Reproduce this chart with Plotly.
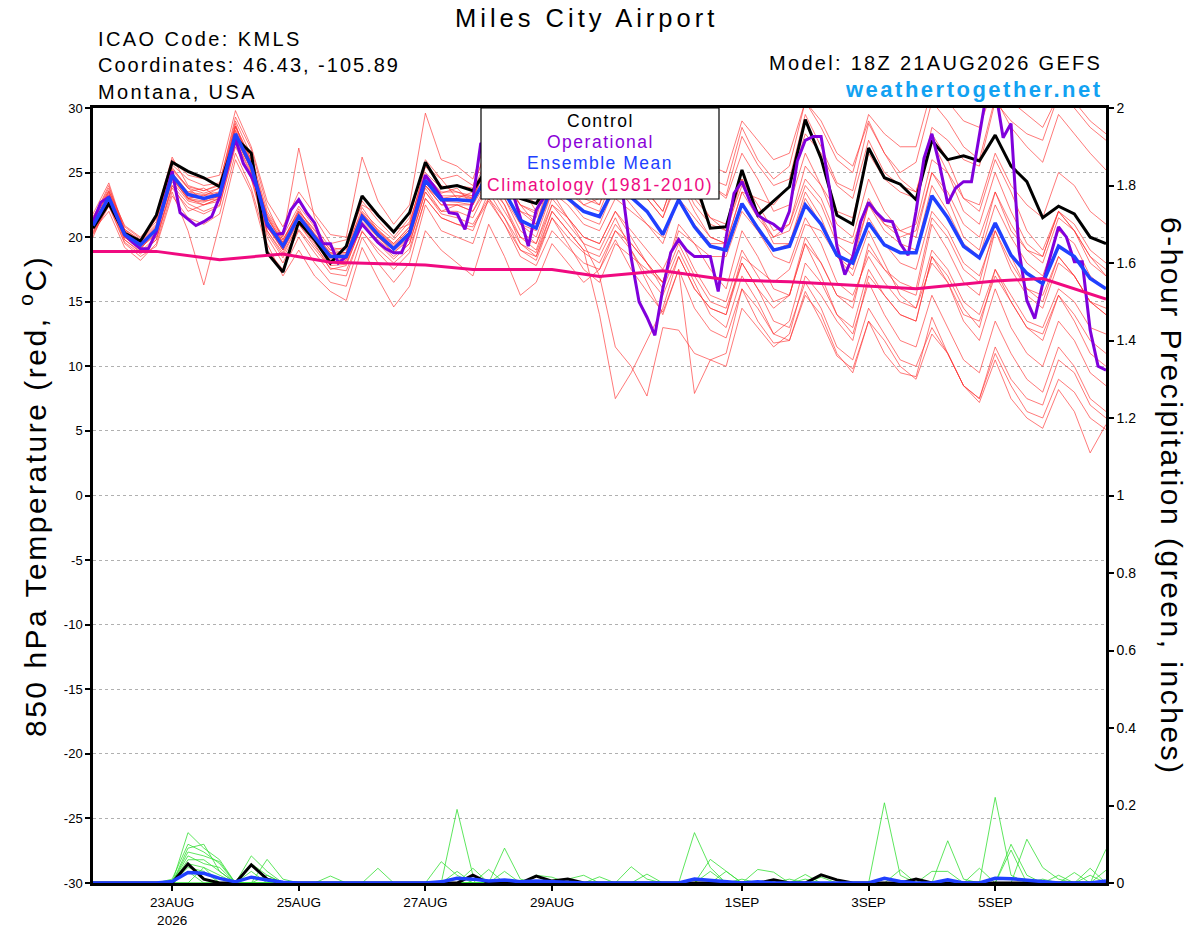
import pandas as pd
import plotly.graph_objects as go

# 6-hourly GEFS output, 21AUG2026 18Z to 06SEP2026 18Z
run_start = "2026-08-21 18:00"
n_steps = 65

# 850 hPa temperature (C)
control_t = [20.7, 22.6, 20.3, 19.7, 21.7, 25.8, 25.1, 24.6, 23.9, 27.7,
             26.5, 18.8, 17.3, 21.2, 19.8, 18.0, 19.3, 23.2, 21.7, 20.4,
             21.9, 25.8, 23.8, 24.0, 23.6, 25.5, 24.5, 23.0, 22.6, 24.5,
             25.0, 24.5, 26.0, 25.5, 26.5, 25.0, 26.0, 25.5, 24.5, 20.7,
             20.8, 25.2, 21.7, 22.8, 23.9, 29.1, 26.1, 21.7, 21.0, 26.9,
             24.6, 24.1, 22.9, 27.5, 26.0, 26.3, 25.9, 27.9, 25.5, 24.3,
             21.5, 22.4, 21.8, 20.0, 19.5]

mean_t = [20.9, 23.1, 20.2, 19.4, 20.6, 24.8, 23.3, 23.0, 23.3, 28.0,
          25.5, 21.1, 19.3, 21.6, 20.0, 18.5, 18.5, 21.6, 20.2, 19.1,
          20.3, 24.4, 22.9, 22.9, 22.8, 25.0, 23.5, 21.3, 20.7, 24.0,
          23.0, 22.0, 21.6, 24.0, 23.1, 22.0, 20.2, 22.9, 20.8, 19.3,
          19.0, 22.6, 20.7, 19.0, 19.3, 22.5, 21.0, 18.6, 18.0, 21.1,
          19.4, 18.8, 18.8, 23.2, 21.5, 19.3, 18.4, 21.1, 18.6, 17.2,
          16.4, 19.3, 18.5, 16.8, 16.0]

# operational run is 3-hourly
oper_t = [21.2, 22.7, 23.1, 21.6, 20.2, 19.6, 19.1, 19.1, 20.4, 22.8,
          25.1, 21.9, 21.4, 20.9, 21.2, 21.6, 23.1, 25.4, 27.6, 25.7,
          24.7, 23.4, 20.9, 20.2, 20.3, 22.1, 22.9, 21.9, 21.1, 19.5,
          19.5, 18.0, 18.5, 19.8, 21.0, 20.3, 19.6, 19.1, 18.8, 18.8,
          20.3, 22.5, 24.8, 24.0, 23.1, 21.9, 21.8, 20.6, 22.9, 27.3,
          26.5, 25.5, 24.5, 23.5, 21.5, 19.3, 22.1, 23.1, 24.5, 25.5,
          26.0, 26.5, 27.0, 26.5, 26.0, 25.5, 25.0, 23.1, 18.4, 15.0,
          13.8, 12.4, 16.0, 18.8, 19.8, 19.0, 18.5, 18.5, 18.5, 15.8,
          20.0, 23.4, 24.3, 22.8, 21.7, 21.3, 21.0, 20.5, 22.0, 25.9,
          27.5, 27.8, 27.8, 24.0, 19.3, 17.1, 18.5, 21.2, 22.7, 21.9,
          21.3, 21.2, 19.5, 18.6, 22.0, 26.1, 28.0, 25.5, 22.6, 23.8,
          24.3, 24.3, 28.0, 31.5, 31.5, 27.7, 28.8, 19.0, 15.1, 13.7,
          16.4, 18.5, 20.8, 20.0, 18.1, 18.1, 12.8, 10.0, 9.7]

# climatology (1981-2010), given at these 6-hour steps
clim_steps = [0, 4, 8, 12, 15, 21, 24, 29, 32, 36, 40, 44, 52, 57, 60, 64]
clim_t = [18.9, 18.9, 18.25, 18.7, 18.05, 17.85, 17.5, 17.5, 16.95, 17.4,
          16.7, 16.55, 16.0, 16.6, 16.8, 15.2]

t_mem01 = [21.5, 23.8, 20.8, 19.9, 21.2, 25.6, 24.5, 24.0, 24.2, 29.0,
           26.3, 22.0, 20.1, 22.4, 20.8, 19.2, 19.0, 22.8, 21.3, 20.0,
           21.5, 26.0, 24.5, 24.8, 24.0, 27.0, 25.2, 23.5, 22.6, 26.5,
           25.0, 24.2, 23.5, 27.0, 26.0, 24.8, 23.0, 27.5, 25.5, 24.0,
           23.2, 27.8, 25.6, 24.0, 24.5, 29.5, 27.0, 24.2, 23.6, 28.8,
           26.5, 25.0, 25.8, 30.5, 29.0, 27.0, 26.0, 30.8, 28.5, 27.0,
           25.8, 29.5, 28.0, 26.5, 25.2]
t_mem02 = [20.3, 22.5, 19.6, 18.7, 19.8, 23.8, 22.3, 21.8, 22.4, 27.0,
           24.6, 20.3, 18.4, 20.6, 19.1, 17.6, 17.4, 20.4, 19.1, 18.0,
           19.1, 23.0, 21.5, 21.0, 20.8, 22.8, 21.0, 18.5, 17.8, 20.5,
           19.2, 18.0, 17.5, 19.8, 17.5, 15.8, 14.2, 17.5, 14.5, 12.8,
           12.2, 16.0, 13.5, 11.8, 12.0, 15.8, 13.5, 10.8, 9.8, 13.5,
           11.0, 9.5, 9.2, 13.8, 11.0, 8.5, 7.2, 10.5, 7.5, 6.0,
           5.2, 8.2, 6.5, 3.3, 5.5]
t_mem03 = [21.8, 24.2, 20.5, 19.6, 21.8, 26.2, 24.0, 23.6, 24.1, 29.3,
           26.8, 22.4, 19.8, 22.0, 20.6, 19.0, 18.8, 22.3, 20.5, 19.5,
           20.8, 25.5, 24.0, 23.5, 23.2, 26.0, 24.2, 22.0, 21.5, 25.5,
           24.5, 23.0, 22.5, 26.0, 24.5, 23.0, 21.5, 25.0, 22.5, 21.0,
           20.5, 24.5, 22.5, 20.5, 21.0, 24.5, 23.0, 20.0, 19.5, 23.0,
           21.0, 20.0, 20.5, 25.0, 23.5, 21.0, 20.0, 23.5, 20.5, 19.0,
           18.0, 21.5, 20.5, 18.5, 17.5]
t_mem04 = [20.0, 22.8, 19.8, 18.9, 20.0, 24.0, 22.0, 22.5, 23.0, 27.5,
           24.8, 20.5, 18.6, 21.0, 19.3, 17.8, 17.9, 20.9, 19.5, 18.3,
           19.5, 23.5, 21.8, 21.5, 21.0, 23.0, 21.5, 19.0, 18.2, 21.5,
           20.0, 18.8, 18.0, 20.5, 19.0, 17.0, 15.5, 18.5, 16.0, 14.5,
           14.0, 18.5, 17.5, 16.5, 17.5, 21.0, 20.5, 18.5, 18.0, 22.5,
           21.0, 20.5, 21.0, 26.0, 25.0, 23.0, 22.5, 26.5, 24.0, 22.5,
           21.5, 25.0, 24.0, 22.0, 21.0]
t_mem05 = [21.2, 23.5, 20.6, 19.8, 21.0, 25.2, 23.8, 22.8, 23.5, 28.5,
           25.8, 21.5, 19.6, 22.2, 20.2, 18.8, 18.4, 21.8, 20.4, 19.4,
           20.6, 24.8, 23.4, 23.8, 22.5, 25.5, 23.8, 21.0, 20.0, 23.5,
           21.5, 19.5, 17.0, 11.5, 10.0, 7.7, 13.0, 12.8, 11.0, 10.5,
           10.0, 14.5, 13.0, 11.5, 12.5, 17.0, 15.5, 13.5, 12.0, 17.0,
           15.5, 14.0, 13.5, 18.5, 17.0, 14.5, 13.0, 17.5, 15.0, 13.0,
           12.0, 15.5, 13.5, 11.0, 10.0]
t_mem06 = [20.5, 22.0, 19.2, 18.2, 19.5, 23.5, 20.5, 16.3, 21.0, 26.0,
           23.5, 19.0, 17.5, 20.0, 18.0, 16.5, 16.2, 20.0, 18.0, 16.5,
           18.0, 22.5, 20.5, 20.0, 19.5, 23.0, 21.0, 19.0, 18.5, 22.0,
           20.5, 19.0, 14.0, 7.5, 9.5, 12.0, 14.5, 18.5, 16.0, 14.5,
           14.0, 18.0, 16.0, 14.5, 15.5, 20.0, 18.0, 15.5, 14.5, 19.5,
           17.5, 16.0, 15.5, 21.0, 19.0, 16.5, 15.5, 20.5, 17.5, 15.5,
           14.5, 18.0, 17.0, 15.0, 14.0]
t_mem07 = [21.0, 23.0, 20.0, 19.0, 20.8, 25.0, 23.0, 23.2, 23.8, 28.8,
           25.0, 21.8, 20.0, 26.9, 21.5, 19.5, 19.8, 22.5, 21.8, 20.5,
           21.0, 25.5, 24.5, 23.0, 23.5, 26.5, 25.0, 23.8, 23.2, 27.0,
           26.5, 25.5, 25.0, 28.5, 27.0, 25.5, 24.5, 28.0, 26.5, 24.5,
           24.0, 28.5, 26.0, 24.5, 25.5, 30.5, 28.5, 26.0, 25.0, 29.5,
           28.0, 27.0, 27.0, 31.5, 30.5, 29.0, 28.5, 32.0, 30.5, 29.5,
           28.5, 31.0, 30.5, 29.0, 28.0]
t_mem08 = [20.2, 22.4, 19.5, 18.5, 19.3, 23.2, 21.5, 21.0, 21.8, 26.5,
           23.8, 19.5, 17.0, 19.0, 17.0, 15.8, 15.1, 19.2, 16.8, 14.6,
           16.2, 20.5, 19.0, 18.0, 17.0, 21.0, 18.5, 15.5, 16.5, 19.5,
           18.0, 16.5, 17.5, 20.5, 19.5, 18.0, 16.5, 21.0, 19.5, 17.5,
           16.0, 20.5, 18.5, 16.0, 15.5, 19.5, 17.0, 14.0, 12.5, 16.5,
           14.0, 12.0, 11.5, 15.5, 13.0, 10.5, 9.5, 13.5, 11.0, 9.0,
           8.0, 11.5, 10.0, 7.5, 6.5]
t_mem09 = [21.4, 24.0, 20.4, 19.5, 21.5, 26.0, 24.8, 24.5, 24.8, 29.8,
           27.0, 22.8, 20.8, 23.5, 21.8, 20.2, 20.0, 26.2, 22.8, 21.0,
           22.5, 29.6, 26.0, 25.5, 24.5, 28.0, 26.0, 24.0, 22.0, 25.5,
           24.0, 22.5, 23.0, 26.0, 24.5, 23.5, 22.0, 25.5, 23.0, 21.5,
           20.5, 24.0, 22.0, 20.0, 20.5, 24.0, 22.5, 19.5, 18.5, 22.5,
           20.5, 19.5, 19.0, 24.0, 22.0, 19.5, 18.5, 22.5, 20.0, 18.0,
           17.0, 20.5, 19.5, 17.0, 16.0]
t_mem10 = [20.6, 23.2, 20.0, 19.2, 20.2, 24.5, 23.5, 23.8, 23.0, 27.8,
           25.2, 20.5, 18.8, 21.0, 19.5, 17.5, 17.8, 21.0, 19.8, 18.8,
           19.8, 23.8, 22.0, 22.5, 22.0, 24.0, 22.0, 20.0, 19.5, 22.5,
           21.5, 20.0, 19.5, 22.0, 20.5, 19.0, 17.5, 20.0, 17.5, 15.5,
           15.0, 19.0, 17.0, 15.0, 15.5, 19.5, 18.0, 15.5, 15.0, 19.0,
           17.5, 16.5, 16.0, 21.5, 20.0, 17.5, 16.5, 21.0, 18.5, 16.0,
           15.0, 18.5, 17.0, 15.0, 14.5]
t_mem11 = [21.0, 23.3, 20.3, 19.3, 20.5, 24.6, 23.0, 22.5, 23.0, 28.2,
           25.5, 21.0, 19.0, 21.5, 19.8, 18.2, 18.0, 21.2, 20.0, 18.8,
           20.0, 24.0, 22.5, 22.5, 22.5, 25.5, 24.0, 22.5, 21.0, 25.0,
           23.5, 22.5, 22.0, 25.0, 24.0, 23.0, 21.5, 24.5, 22.0, 20.0,
           19.5, 23.5, 23.0, 22.5, 24.0, 28.0, 26.5, 24.0, 23.0, 27.5,
           25.0, 24.0, 23.5, 28.0, 26.0, 23.0, 22.0, 26.0, 23.5, 20.5,
           19.0, 22.0, 20.5, 18.5, 17.0]
t_mem12 = [20.8, 22.8, 20.1, 19.3, 20.3, 24.3, 22.8, 22.5, 22.8, 27.5,
           25.0, 20.8, 19.0, 21.2, 19.6, 18.0, 18.2, 21.0, 19.6, 18.5,
           19.5, 23.5, 22.0, 22.0, 21.5, 24.0, 22.5, 20.0, 19.0, 22.5,
           21.0, 19.5, 19.0, 21.5, 19.0, 16.5, 14.0, 17.5, 7.9, 10.5,
           11.0, 16.0, 14.5, 12.5, 13.5, 18.0, 16.5, 14.0, 13.0, 17.5,
           15.5, 14.0, 13.5, 18.5, 16.5, 13.5, 12.0, 16.0, 13.0, 11.0,
           10.0, 13.5, 12.0, 9.5, 8.5]
t_mem13 = [21.6, 23.6, 20.9, 20.0, 21.4, 25.3, 23.9, 23.6, 24.0, 28.6,
           26.0, 21.7, 19.8, 22.0, 20.5, 19.0, 19.2, 22.0, 20.8, 19.8,
           21.2, 25.0, 23.8, 24.0, 23.8, 27.5, 26.0, 24.5, 23.8, 28.0,
           27.0, 26.0, 25.5, 29.0, 27.5, 26.5, 25.0, 28.5, 26.0, 24.0,
           23.0, 26.5, 24.5, 22.0, 22.5, 26.5, 24.0, 21.0, 20.0, 24.5,
           22.0, 20.5, 20.0, 25.0, 23.0, 20.0, 19.0, 23.5, 21.0, 19.0,
           18.5, 22.0, 21.0, 19.0, 18.0]
t_mem14 = [20.4, 22.6, 19.8, 18.8, 19.8, 24.0, 22.6, 22.0, 22.5, 27.2,
           24.5, 20.0, 18.0, 20.5, 18.8, 17.2, 17.0, 20.5, 18.8, 17.5,
           18.8, 23.0, 21.5, 21.0, 20.5, 23.5, 21.5, 19.5, 18.8, 22.0,
           20.5, 19.0, 18.5, 21.0, 19.5, 18.0, 16.5, 19.5, 17.0, 15.0,
           14.5, 18.0, 16.0, 13.5, 13.0, 16.5, 14.5, 11.5, 10.5, 14.5,
           12.5, 10.5, 10.0, 13.0, 11.0, 8.5, 7.5, 11.0, 8.5, 6.5,
           6.0, 9.0, 8.0, 6.0, 5.1]
t_mem15 = [21.3, 23.4, 20.5, 19.6, 20.8, 25.0, 23.5, 23.3, 23.5, 28.3,
           25.8, 21.5, 19.5, 21.8, 20.3, 18.8, 18.8, 21.8, 20.6, 19.5,
           20.8, 24.8, 23.5, 23.5, 23.0, 26.0, 24.5, 22.5, 21.8, 25.5,
           24.5, 23.5, 23.5, 27.0, 26.5, 25.5, 24.5, 28.5, 27.0, 25.5,
           25.0, 29.0, 27.5, 26.0, 26.5, 30.5, 29.0, 26.5, 25.5, 29.0,
           26.5, 24.5, 23.5, 27.5, 25.0, 22.0, 21.0, 25.0, 22.0, 19.5,
           18.5, 22.0, 20.5, 18.0, 17.0]
t_mem16 = [20.7, 22.9, 20.0, 19.1, 20.4, 24.5, 23.0, 22.8, 23.0, 27.8,
           25.3, 20.8, 19.0, 21.3, 19.8, 18.3, 18.3, 21.4, 20.0, 19.0,
           20.0, 24.0, 22.5, 22.5, 22.0, 24.5, 23.0, 20.5, 19.5, 23.0,
           21.5, 20.0, 19.5, 22.0, 20.0, 18.0, 16.0, 19.0, 16.5, 14.0,
           13.0, 17.0, 15.0, 12.5, 12.0, 15.5, 14.0, 11.0, 9.5, 13.5,
           12.0, 10.0, 9.0, 12.5, 11.0, 8.5, 7.5, 11.5, 9.0, 7.5,
           7.0, 10.5, 9.5, 7.0, 6.0]
t_mem17 = [21.1, 23.1, 20.2, 19.2, 20.7, 24.9, 23.4, 23.2, 23.4, 28.0,
           25.6, 21.2, 19.4, 21.6, 20.1, 18.6, 18.6, 21.7, 20.3, 19.2,
           20.4, 24.4, 23.0, 23.2, 23.2, 25.5, 24.5, 22.5, 22.0, 26.0,
           24.5, 23.5, 22.5, 26.5, 25.0, 23.5, 22.0, 25.5, 23.5, 21.5,
           21.0, 24.5, 22.0, 19.5, 19.5, 23.5, 21.5, 18.5, 17.5, 21.5,
           19.5, 18.0, 17.5, 22.0, 20.5, 18.0, 17.0, 20.5, 18.0, 16.0,
           15.5, 18.5, 17.0, 15.0, 14.0]
t_mem18 = [21.2, 23.6, 20.6, 19.7, 20.9, 25.4, 23.8, 23.4, 23.8, 28.6,
           26.0, 21.6, 19.6, 21.9, 20.2, 18.7, 18.7, 21.9, 20.5, 19.3,
           20.6, 24.6, 23.2, 23.2, 23.0, 25.8, 24.3, 22.0, 21.0, 24.5,
           23.0, 21.5, 21.0, 24.0, 22.5, 21.0, 19.5, 23.0, 21.0, 19.5,
           19.5, 23.5, 21.5, 20.0, 21.0, 25.5, 24.0, 22.0, 21.5, 26.5,
           24.5, 23.5, 23.0, 28.5, 27.5, 26.0, 25.5, 30.5, 29.0, 28.0,
           27.5, 31.0, 30.0, 28.5, 27.5]
t_mem19 = [20.9, 23.0, 20.2, 19.3, 20.5, 24.7, 23.1, 23.0, 23.1, 27.9,
           25.4, 21.0, 19.2, 21.5, 19.9, 18.4, 18.4, 21.5, 20.1, 19.0,
           20.2, 24.2, 22.8, 22.7, 22.5, 24.5, 22.5, 19.5, 18.5, 21.5,
           19.5, 17.5, 16.5, 19.5, 18.5, 17.5, 16.5, 20.5, 19.5, 18.5,
           18.5, 22.0, 20.5, 19.0, 19.5, 23.0, 21.0, 18.5, 17.0, 20.5,
           18.0, 15.5, 14.5, 18.0, 16.5, 14.0, 13.5, 17.0, 15.0, 13.0,
           12.5, 15.5, 14.0, 12.0, 11.0]
t_mem20 = [21.0, 22.9, 20.4, 19.5, 20.6, 24.6, 22.9, 22.7, 23.2, 27.6,
           25.3, 21.3, 19.3, 21.4, 20.0, 18.6, 18.4, 21.5, 20.0, 19.0,
           20.2, 24.0, 22.8, 22.9, 23.0, 25.0, 23.0, 21.0, 20.5, 23.5,
           22.5, 21.0, 20.5, 23.0, 22.0, 21.0, 20.0, 23.0, 21.5, 20.0,
           19.5, 22.5, 20.5, 18.5, 18.0, 21.5, 19.5, 16.5, 15.5, 18.5,
           16.5, 15.0, 14.5, 19.0, 17.5, 15.0, 14.0, 17.5, 15.5, 13.5,
           13.0, 16.0, 15.0, 13.0, 12.5]

# 6-hour precipitation (inches)
control_p = [0, 0, 0, 0, 0, 0, .049, .01, 0, 0,
             .047, .01, 0, 0, 0, 0, 0, 0, 0, 0,
             0, 0, 0, 0, .02, 0, 0, 0, .018, .005,
             .01, 0, 0, 0, 0, 0, 0, 0, 0, 0,
             0, 0, 0, .008, 0, 0, .021, .008, 0, 0,
             0, 0, .01, 0, 0, 0, 0, 0, 0, 0,
             0, 0, 0, 0, 0]
mean_p = [0, 0, 0, 0, 0, .004, .027, .025, .012, .003,
          .015, .008, .002, 0, 0, 0, 0, 0, 0, 0,
          0, 0, .003, .012, .01, .005, .008, .003, .005, .003,
          0, 0, 0, 0, 0, 0, 0, 0, .01, .006,
          .004, 0, .003, 0, 0, 0, 0, 0, 0, 0,
          .012, .004, 0, 0, .008, 0, 0, .012, .011, .008,
          .004, 0, 0, 0, .005]

p_mem01 = [0, 0, 0, 0, 0, 0, .13, .09, .06, 0,
           0, 0, 0, 0, 0, 0, 0, 0, 0, 0,
           0, 0, 0, .19, .02, 0, 0, 0, 0, 0,
           0, 0, 0, 0, 0, 0, 0, 0, 0, 0,
           0, 0, 0, 0, 0, 0, 0, 0, 0, 0,
           .207, .02, 0, 0, 0, 0, 0, 0, 0, 0,
           0, 0, 0, 0, 0]
p_mem02 = [0, 0, 0, 0, 0, .01, .10, .08, .05, 0,
           .07, .03, 0, 0, 0, 0, 0, 0, 0, 0,
           0, 0, 0, 0, 0, 0, 0, 0, 0, 0,
           0, 0, 0, 0, 0, 0, 0, 0, 0, 0,
           0, 0, 0, 0, 0, 0, 0, 0, 0, 0,
           0, 0, 0, 0, 0, 0, 0, .221, .02, 0,
           0, 0, 0, 0, 0]
p_mem03 = [0, 0, 0, 0, 0, 0, .09, .10, .03, 0,
           0, .061, .01, 0, 0, 0, 0, 0, 0, 0,
           0, 0, 0, 0, 0, 0, 0, 0, 0, 0,
           0, 0, 0, 0, 0, 0, 0, 0, .13, .04,
           0, 0, 0, 0, 0, 0, 0, 0, 0, 0,
           0, 0, 0, 0, .109, .01, 0, 0, 0, 0,
           0, 0, 0, 0, 0]
p_mem04 = [0, 0, 0, 0, 0, 0, .08, .07, .055, 0,
           0, 0, 0, 0, 0, 0, 0, 0, 0, 0,
           0, 0, 0, 0, 0, 0, .09, .01, 0, 0,
           0, 0, 0, 0, 0, 0, 0, 0, 0, 0,
           0, 0, 0, 0, 0, 0, 0, 0, 0, 0,
           0, 0, 0, 0, 0, 0, 0, 0, .10, .02,
           0, 0, 0, 0, 0]
p_mem05 = [0, 0, 0, 0, 0, 0, .07, .05, .04, 0,
           0, 0, 0, 0, 0, 0, 0, 0, 0, 0,
           0, 0, .055, .02, 0, 0, 0, 0, 0, 0,
           0, 0, 0, 0, 0, 0, 0, 0, 0, .061,
           .03, 0, 0, 0, 0, 0, 0, 0, 0, 0,
           0, 0, 0, 0, 0, 0, 0, 0, 0, .113,
           .04, .01, 0, 0, 0]
p_mem06 = [0, 0, 0, 0, 0, 0, .06, .06, .03, 0,
           .05, .02, 0, 0, 0, 0, 0, 0, 0, 0,
           0, 0, 0, 0, 0, 0, 0, 0, 0, 0,
           0, 0, 0, 0, .042, .01, 0, 0, 0, 0,
           0, 0, 0, 0, 0, 0, 0, 0, 0, 0,
           0, 0, 0, 0, 0, 0, 0, 0, 0, 0,
           0, 0, 0, 0, .087]
p_mem07 = [0, 0, 0, 0, 0, 0, .05, .04, 0, 0,
           0, 0, 0, 0, 0, .018, 0, 0, 0, 0,
           0, 0, 0, 0, 0, 0, 0, 0, 0, 0,
           0, 0, 0, 0, 0, 0, 0, 0, 0, 0,
           0, 0, .035, .028, 0, 0, 0, 0, 0, 0,
           0, 0, 0, 0, 0, 0, .038, 0, 0, 0,
           0, 0, 0, .038, 0]
p_mem08 = [0, 0, 0, 0, 0, 0, .04, .03, 0, 0,
           .03, 0, 0, 0, 0, 0, 0, 0, .038, 0,
           0, 0, 0, 0, .038, 0, 0, 0, 0, 0,
           0, 0, 0, 0, 0, 0, 0, 0, 0, 0,
           0, 0, 0, 0, 0, .022, 0, 0, 0, 0,
           0, 0, 0, .03, .03, 0, 0, 0, 0, 0,
           0, 0, 0, 0, 0]
p_mem09 = [0, 0, 0, 0, 0, 0, 0, .04, .02, 0,
           0, 0, 0, 0, 0, 0, 0, 0, 0, 0,
           0, 0, 0, 0, 0, .035, 0, 0, 0, 0,
           0, 0, 0, 0, 0, .023, 0, 0, 0, 0,
           0, 0, 0, 0, 0, 0, 0, 0, 0, 0,
           0, 0, 0, 0, 0, 0, 0, 0, .085, 0,
           0, 0, 0, 0, .033]
p_mem10 = [0, 0, 0, 0, 0, 0, .03, 0, 0, 0,
           0, 0, 0, 0, 0, 0, 0, 0, 0, 0,
           0, 0, 0, .03, 0, 0, 0, 0, .02, .015,
           0, 0, .016, 0, 0, 0, 0, 0, 0, 0,
           .03, 0, 0, 0, 0, 0, 0, 0, 0, 0,
           0, .034, 0, 0, 0, 0, 0, 0, 0, 0,
           0, 0, .027, 0, 0]
p_mem11 = [0, 0, 0, 0, 0, 0, 0, 0, 0, 0,
           0, .02, 0, 0, 0, 0, 0, 0, 0, 0,
           0, 0, 0, 0, 0, 0, .03, 0, 0, 0,
           0, 0, 0, 0, 0, 0, 0, 0, 0, .03,
           0, .01, 0, 0, 0, .01, 0, 0, 0, 0,
           0, 0, 0, 0, 0, 0, 0, 0, 0, 0,
           .01, 0, 0, .02, 0]
p_mem12 = [0, 0, 0, 0, 0, 0, 0, 0, 0, 0,
           0, 0, 0, 0, 0, 0, 0, 0, 0, 0,
           0, 0, 0, 0, 0, 0, 0, 0, 0, 0,
           .01, .02, 0, 0, 0, 0, 0, 0, 0, 0,
           0, 0, 0, 0, .01, 0, .015, 0, 0, 0,
           0, 0, 0, 0, 0, 0, 0, 0, 0, 0,
           0, .02, 0, 0, 0]

tick_dates = ["2026-08-23", "2026-08-25", "2026-08-27", "2026-08-29",
              "2026-09-01", "2026-09-03", "2026-09-05"]
tick_text = ["23AUG<br>2026", "25AUG", "27AUG", "29AUG", "1SEP", "3SEP", "5SEP"]
temp_ticks = [-30, -25, -20, -15, -10, -5, 0, 5, 10, 15, 20, 25, 30]

temp_members = [t_mem01, t_mem02, t_mem03, t_mem04, t_mem05, t_mem06, t_mem07,
                t_mem08, t_mem09, t_mem10, t_mem11, t_mem12, t_mem13, t_mem14,
                t_mem15, t_mem16, t_mem17, t_mem18, t_mem19, t_mem20]
precip_members = [p_mem01, p_mem02, p_mem03, p_mem04, p_mem05, p_mem06,
                  p_mem07, p_mem08, p_mem09, p_mem10, p_mem11, p_mem12]

FONT = "Liberation Sans, Arial, Helvetica, sans-serif"
W, H = 1200, 927
# plot area in page pixels
L, R, T, B = 93, 1106, 108, 883

ens_times = pd.date_range(run_start, periods=n_steps, freq="6h")
oper_times = pd.date_range(run_start, periods=len(oper_t), freq="3h")
clim_times = [ens_times[s] for s in clim_steps]


def px(x):
    return (x - L) / (R - L)


def py(y):
    return (B - y) / (B - T)


def spaced(text, ls):
    # reference font is drawn with wide letter spacing
    return f"<span style='letter-spacing:{ls}px'>{text}</span>"


def label(text, x, y, size, color="black", anchor="center", ls=2.5, angle=0):
    fig.add_annotation(x=px(x), y=py(y), xref="paper", yref="paper",
                       text=spaced(text, ls), xanchor=anchor, yanchor="middle",
                       textangle=angle, showarrow=False,
                       font=dict(size=size, color=color, family=FONT))


fig = go.Figure()

for mem in temp_members:
    fig.add_trace(go.Scatter(x=ens_times, y=mem, mode="lines", hoverinfo="skip",
                             line=dict(color="rgba(255,45,45,0.8)", width=0.8)))
for mem in precip_members:
    fig.add_trace(go.Scatter(x=ens_times, y=mem, mode="lines", yaxis="y2", hoverinfo="skip",
                             line=dict(color="#35e035", width=0.8)))

fig.add_trace(go.Scatter(x=ens_times, y=control_p, mode="lines", yaxis="y2",
                         line=dict(color="black", width=3)))
fig.add_trace(go.Scatter(x=ens_times, y=mean_p, mode="lines", yaxis="y2",
                         line=dict(color="#2040ff", width=3.5)))

fig.add_trace(go.Scatter(x=ens_times, y=control_t, mode="lines",
                         line=dict(color="black", width=3)))
fig.add_trace(go.Scatter(x=oper_times, y=oper_t, mode="lines",
                         line=dict(color="#8000dc", width=3)))
fig.add_trace(go.Scatter(x=ens_times, y=mean_t, mode="lines",
                         line=dict(color="#2040ff", width=3.5)))
fig.add_trace(go.Scatter(x=clim_times, y=clim_t, mode="lines",
                         line=dict(color="#f00a80", width=3)))

axis_line = dict(showline=True, linecolor="black", linewidth=2.5, automargin=False,
                 ticks="outside", ticklen=5, tickwidth=1.5, tickcolor="black")

fig.update_layout(
    width=W, height=H,
    margin=dict(l=L, r=W - R, t=T, b=H - B, pad=0),
    paper_bgcolor="white", plot_bgcolor="white",
    showlegend=False,
    font=dict(family=FONT, color="black"),
    xaxis=dict(type="date", range=[ens_times[0], ens_times[-1]],
               tickvals=pd.to_datetime(tick_dates), ticktext=tick_text,
               tickfont=dict(size=13.5), showgrid=False, mirror=True, **axis_line),
    yaxis=dict(range=[-30, 30], tickvals=temp_ticks,
               ticktext=[str(v) for v in temp_ticks],
               tickfont=dict(size=13), showgrid=True, gridcolor="#b0b0b0",
               griddash="dot", gridwidth=1, zeroline=False, **axis_line),
    yaxis2=dict(range=[0, 2], dtick=0.2, overlaying="y", side="right",
                tickfont=dict(size=14), showgrid=False, zeroline=False, **axis_line),
)

# legend box
fig.add_shape(type="rect", xref="paper", yref="paper",
              x0=px(481), x1=px(719), y0=py(199), y1=py(108),
              line=dict(color="black", width=1.2), fillcolor="white", layer="above")

legend_rows = [("Control", "black", 121), ("Operational", "#8a00d8", 142),
               ("Ensemble Mean", "#2040ff", 163), ("Climatology (1981-2010)", "#ee0a82", 185)]
for text, color, y in legend_rows:
    label(text, 600, y, 17.5, color=color, ls=1.5)

# header
label("Miles City Airport", 586, 18, 25.5, ls=4)
label("ICAO Code: KMLS", 96, 39, 20, anchor="left", ls=2.4)
label("Coordinates: 46.43, -105.89", 96, 65, 20, anchor="left", ls=2.0)
label("Montana, USA", 96, 92, 20, anchor="left", ls=2.4)
label("Model: 18Z 21AUG2026 GEFS", 1104, 63, 20, anchor="right", ls=2.3)
label("<b>weathertogether.net</b>", 1105, 89, 22, color="#12a2f2", anchor="right", ls=2.5)

# axis titles
label("850 hPa Temperature (red, <sup>o</sup>C)", 33, 496, 30, angle=-90)
label("6-hour Precipitation (green, inches)", 1172, 496, 30, angle=90)

# the page body has a default 8px margin; remove it so the figure sits at the corner
fig.write_html("out.html", config={"displayModeBar": False},
               post_script="document.body.style.margin = '0px';")
